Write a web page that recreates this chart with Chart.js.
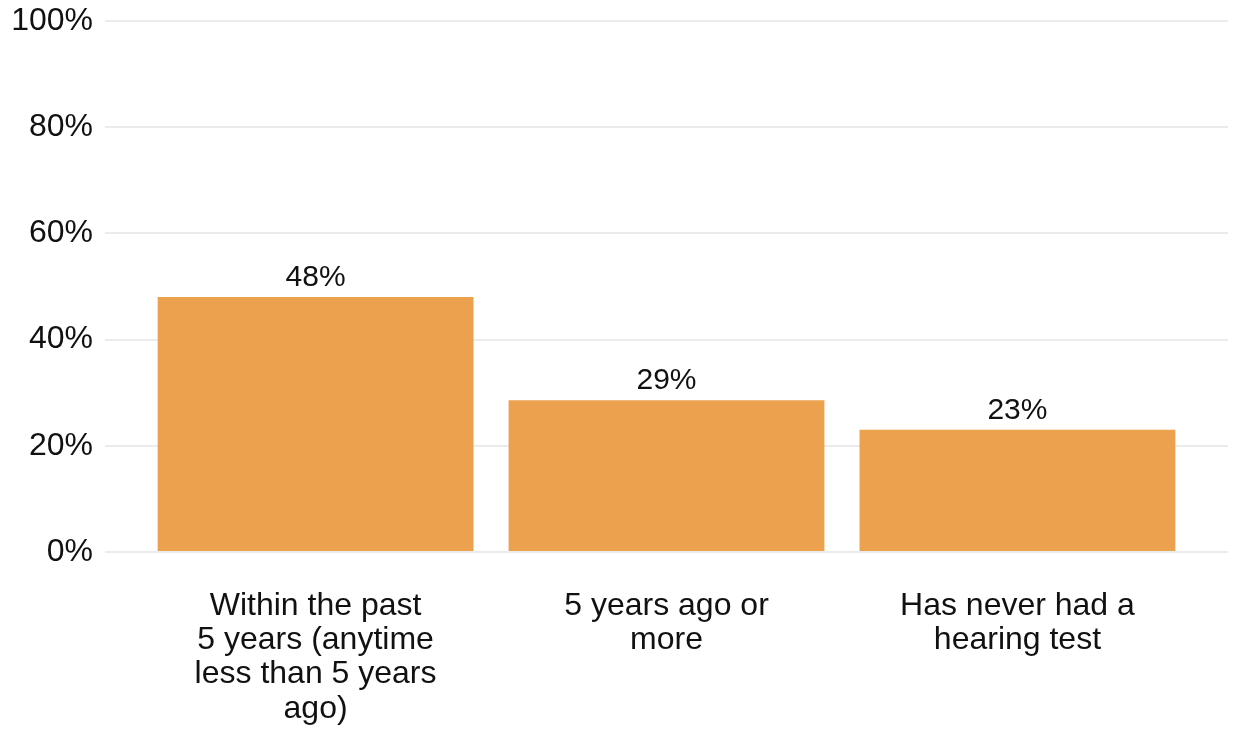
<!DOCTYPE html>
<html>
<head>
<meta charset="utf-8">
<script src="https://cdn.jsdelivr.net/npm/chart.js@4/dist/chart.umd.min.js"></script>
<style>
  html, body { margin: 0; padding: 0; background: #fff; }
  #wrap { width: 1233px; height: 733px; }
</style>
</head>
<body>
<div id="wrap"><canvas id="chart"></canvas></div>
<script>
const categories = [
  ['Within the past', '5 years (anytime', 'less than 5 years', 'ago)'],
  ['5 years ago or', 'more'],
  ['Has never had a', 'hearing test']
];
const positions = [1, 2, 3];
const shares = [48, 28.6, 23];
const yTicks = [0, 20, 40, 60, 80, 100];

const font = "'Liberation Sans', Arial, sans-serif";

// values printed above each bar
const barLabels = {
  id: 'barLabels',
  afterDatasetsDraw(chart) {
    const ctx = chart.ctx;
    const meta = chart.getDatasetMeta(0);
    ctx.save();
    ctx.font = '30px ' + font;
    ctx.fillStyle = '#111';
    ctx.textAlign = 'center';
    ctx.textBaseline = 'bottom';
    meta.data.forEach((bar, i) => {
      ctx.fillText(Math.round(shares[i]) + '%', bar.x, bar.y - 4);
    });
    ctx.restore();
  }
};

new Chart(document.getElementById('chart'), {
  type: 'bar',
  data: {
    datasets: [{
      data: positions.map((p, i) => ({ x: p, y: shares[i] })),
      backgroundColor: '#eba14e',
      barPercentage: 0.9,
      categoryPercentage: 1
    }]
  },
  options: {
    responsive: true,
    maintainAspectRatio: false,
    animation: false,
    layout: { padding: { top: 0, right: 5 } },
    plugins: {
      legend: { display: false },
      tooltip: { enabled: false }
    },
    scales: {
      x: {
        type: 'linear',
        min: 0.4,
        max: 3.6,
        offset: false,
        grid: { display: false },
        border: { display: false },
        afterBuildTicks: s => { s.ticks = positions.map(v => ({ value: v })); },
        afterFit: s => { s.height = 181; },
        ticks: {
          autoSkip: false,
          maxRotation: 0,
          padding: 29,
          color: '#111',
          font: { family: font, size: 32, lineHeight: 1.07 },
          callback: v => categories[v - 1]
        }
      },
      y: {
        min: 0,
        max: 100,
        afterBuildTicks: s => { s.ticks = yTicks.map(v => ({ value: v })); },
        afterFit: s => { s.width = 105; s.paddingTop = 21; s.paddingBottom = 0; },
        grid: { color: '#ebebeb', lineWidth: 2, drawTicks: false },
        border: { display: false },
        ticks: {
          padding: 12,
          color: '#111',
          font: { family: font, size: 32 },
          callback: v => v + '%'
        }
      }
    }
  },
  plugins: [barLabels]
});
</script>
</body>
</html>
